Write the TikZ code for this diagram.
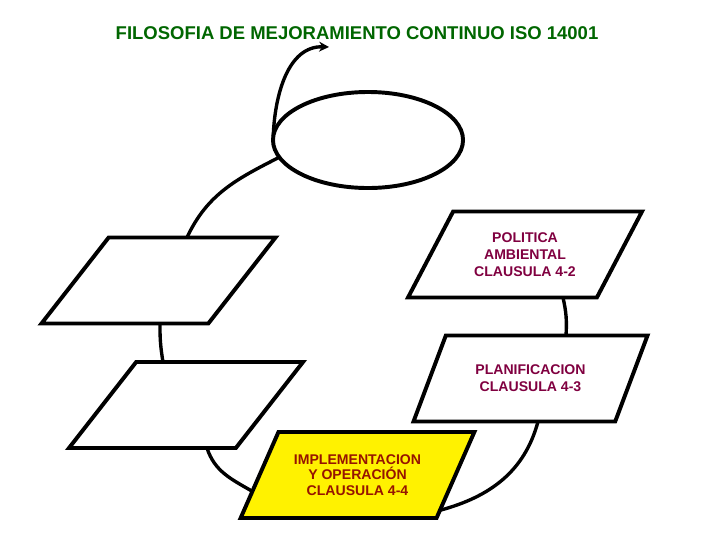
\documentclass[tikz,border=0pt]{standalone}
\usepackage{fontspec}
\setmainfont{Liberation Sans}
\usepackage{xcolor}
\usetikzlibrary{shapes,positioning,arrows.meta,calc}
\definecolor{titlegreen}{RGB}{0,102,0}
\definecolor{polcol}{RGB}{128,0,64}
\definecolor{implcol}{RGB}{150,20,0}

\begin{document}
\begin{tikzpicture}[x=0.025cm,y=0.025cm,
  box/.style={draw,trapezium,trapezium left angle=56,trapezium right angle=124,
    trapezium stretches=true,minimum width=5.85cm,minimum height=2.15cm,
    line width=2.8pt,inner sep=2pt,outer sep=0pt,align=center,
    font=\fontsize{10}{12.2}\selectfont\bfseries},
  link/.style={line width=2.4pt}]
\useasboundingbox (0,0) rectangle (720,-540);

\node[font=\fontsize{13.15}{15}\selectfont\bfseries,text=titlegreen] (title) at (357,-33) {FILOSOFIA DE MEJORAMIENTO CONTINUO ISO 14001};
\node[draw,ellipse,line width=2.8pt,minimum width=4.75cm,minimum height=2.4cm,inner sep=0pt,outer sep=0pt] (cycle) at (368,-140) {};

\node[box,text=polcol] (pol) at (525,-254.5) {POLITICA\\AMBIENTAL\\CLAUSULA 4-2};
\node[box,text=polcol] (plan) at (530.5,-378.5) {PLANIFICACION\\CLAUSULA 4-3};
\node[box] (lt) at (158.5,-280.5) {};
\node[box] (lb) at (186,-405) {};
\node[box,fill=yellow,text=implcol,font=\fontsize{10}{11.2}\selectfont\bfseries] (impl) at (357.5,-475) {IMPLEMENTACION\\Y OPERACIÓN\\CLAUSULA 4-4};

% cycle links
\coordinate (tip) at (329,-47);
\draw[link,-{Stealth[length=7pt,width=7pt]}] (cycle.178) to[out=88,in=178] (tip);
\draw[link] (cycle.191) to[out=207,in=65] ($(lt.north)+(28.5,0)$);
\draw[link] ($(lt.south)+(1.5,0)$) to[bend right=5] ($(lb.north)+(-23,0)$);
\draw[link] ($(lb.south)+(21,0)$) to[out=-72,in=150] ($(impl.bottom left corner)!0.31!(impl.top left corner)$);
\draw[link] ($(plan.south)+(7.5,0)$) to[out=-105,in=15] ($(impl.bottom right corner)!0.09!(impl.top right corner)$);
\draw[link] ($(pol.south)+(38,0)$) to[bend left=8] ($(plan.north)+(35.5,0)$);
\end{tikzpicture}
\end{document}
